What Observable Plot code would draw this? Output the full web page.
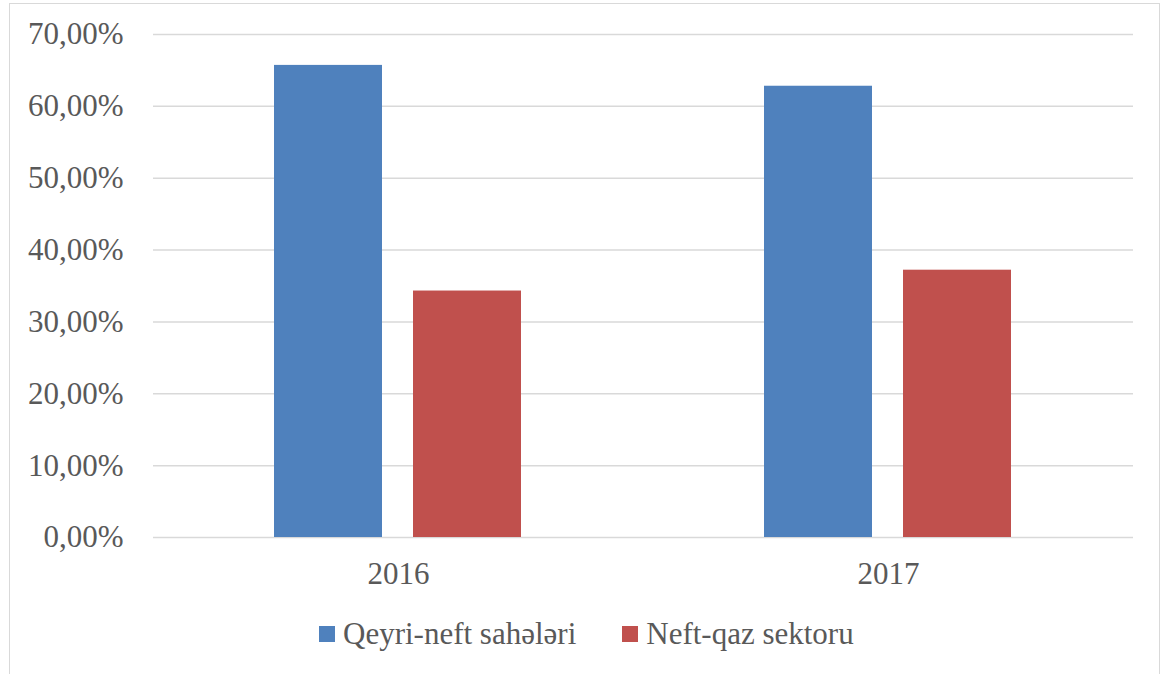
<!DOCTYPE html>
<html>
<head>
<meta charset="utf-8">
<script src="https://cdn.jsdelivr.net/npm/d3@7"></script>
<script src="https://cdn.jsdelivr.net/npm/@observablehq/plot@0.6"></script>
<style>
  html, body { margin: 0; padding: 0; background: #fff; width: 1165px; height: 674px; overflow: hidden; font-family: 'Liberation Serif'; }
  #frame { position: absolute; left: 9px; top: 3px; width: 1151px; height: 720px; border: 1.5px solid #d9d9d9; box-sizing: border-box; }
  #chart { position: absolute; left: 0; top: 0; }
  #legend { position: absolute; left: 319px; top: 618px; display: flex; align-items: center; font-family: 'Liberation Serif'; font-size: 31px; line-height: 31px; color: #595959; white-space: nowrap; }
  .item { display: flex; align-items: center; }
  .sw { width: 16px; height: 16px; margin-right: 8px; }
  #chart svg, #chart svg text, #chart svg g { font-family: 'Liberation Serif' !important; }
</style>
</head>
<body>
<div id="frame"></div>
<div id="chart"></div>
<div id="legend"></div>
<script>
const years = ["2016", "2017"];
const seriesNames = ["Qeyri-neft sahələri", "Neft-qaz sektoru"];
const qeyriNeft = [65.7, 62.8];
const neftQaz = [34.3, 37.2];
const yTicks = [0, 10, 20, 30, 40, 50, 60, 70];
const colors = ["#4F81BD", "#C0504D"];

const seriesValues = [qeyriNeft, neftQaz];
const data = [];
years.forEach((yr, i) => {
  seriesNames.forEach((s, j) => data.push({year: yr, series: s, value: seriesValues[j][i]}));
});

const fmt = d => d.toFixed(2).replace(".", ",") + "%";

const chart = Plot.plot({
  width: 1165,
  height: 600,
  marginLeft: 152,
  marginRight: 32,
  marginTop: 34,
  marginBottom: 63,
  style: {fontFamily: "Liberation Serif", fontSize: "31px", color: "#595959", background: "transparent"},
  fx: {domain: years, padding: 0, axis: null, label: null},
  x: {domain: seriesNames, paddingInner: 0.2214, paddingOuter: 0.8625, axis: null},
  y: {domain: [0, 70], axis: null},
  color: {domain: seriesNames, range: colors},
  marks: [
    Plot.gridY(yTicks, {stroke: "#d9d9d9", strokeOpacity: 1, strokeWidth: 1.5}),
    Plot.axisY(yTicks, {anchor: "left", tickSize: 0, tickPadding: 30, tickFormat: fmt, label: null, fontSize: 31}),
    Plot.axisFx({anchor: "bottom", tickSize: 0, tickPadding: 24, label: null, fontSize: 31}),
    Plot.barY(data, {fx: "year", x: "series", y: "value", fill: "series"})
  ]
});
document.getElementById("chart").appendChild(chart);

const legend = document.getElementById("legend");
seriesNames.forEach((s, j) => {
  const item = document.createElement("div");
  item.className = "item";
  if (j > 0) item.style.marginLeft = "46px";
  const sw = document.createElement("div");
  sw.className = "sw";
  sw.style.background = colors[j];
  const t = document.createElement("span");
  t.textContent = s;
  item.appendChild(sw);
  item.appendChild(t);
  legend.appendChild(item);
});
</script>
</body>
</html>
